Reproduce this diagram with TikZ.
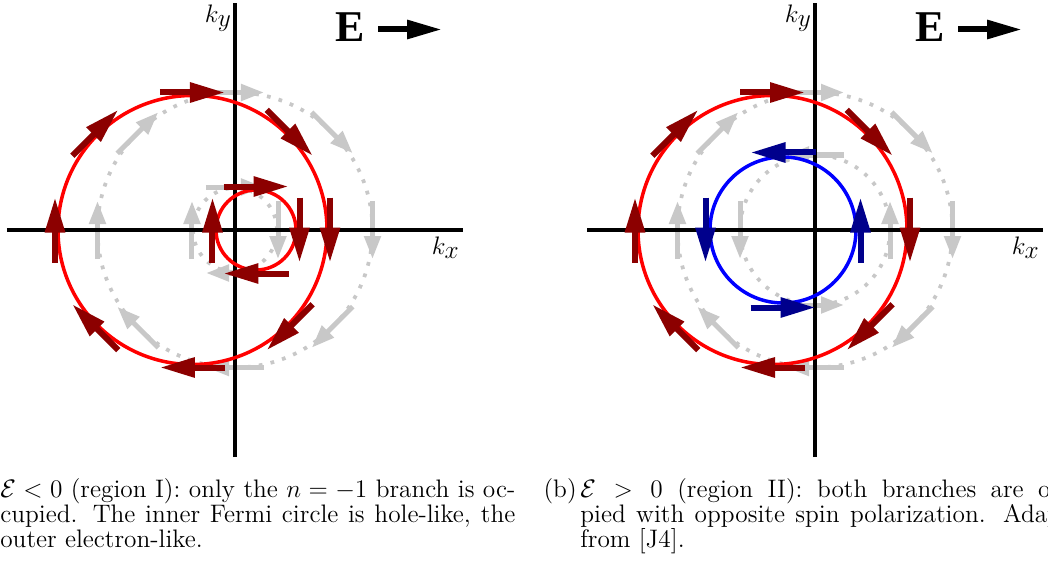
\documentclass[tikz,border=0pt]{standalone}
\usepackage{amsmath,amssymb}
\usepackage{fontspec}
\newfontfamily\efont{Liberation Serif}
\usepackage{tikz}
\usetikzlibrary{arrows.meta}
\definecolor{myred}{RGB}{255,0,0}
\definecolor{mydarkred}{RGB}{140,0,0}
\definecolor{myblue}{RGB}{0,0,255}
\definecolor{mydarkblue}{RGB}{0,0,140}
\definecolor{mygrey}{RGB}{200,200,200}
\newcommand{\justline}[1]{\makebox[10.3cm][s]{#1}}

\begin{document}
\begin{tikzpicture}[every node/.style={inner sep=0pt},
  axis/.style={line width=0.065cm},
  fermi/.style={line width=0.07cm},
  oldfermi/.style={mygrey,line width=0.075cm,dash pattern=on 0.075cm off 0.165cm},
  spin/.style={line width=0.12cm,-{Triangle[length=0.7cm,width=0.38cm]}},
  oldspin/.style={mygrey,line width=0.1cm,-{Triangle[length=0.46cm,width=0.32cm]}},
  field/.style={line width=0.12cm,-{Triangle[length=0.7cm,width=0.36cm]}},
  klabel/.style={font=\fontsize{15}{15}\selectfont},
  elabel/.style={font=\fontsize{25}{25}\selectfont\efont\bfseries},
  capline/.style={font=\fontsize{14.4}{14.2}\selectfont,anchor=base west}]
\useasboundingbox (-4.7,-6.8) rectangle (16.26,4.6);

% (a) region I: only n=-1
\coordinate (o1) at (0,0);
\coordinate (r1) at (-0.85,0);
\coordinate (h1) at (0.42,0);
\draw[oldfermi] (o1) circle (2.75);
\draw[oldfermi] (o1) circle (0.84);
\foreach \a in {0,45,...,315}
  \draw[oldspin] (o1) ++(\a:2.75) ++(\a+90:0.58) -- ++(\a-90:1.16);
\foreach \a in {0,90,180,270}
  \draw[oldspin] (o1) ++(\a:0.86) ++(\a+90:0.58) -- ++(\a-90:1.16);
\draw[axis] (-4.56,0) -- (4.56,0);
\draw[axis] (0,-4.54) -- (0,4.54);
\draw[fermi,myred] (r1) circle (2.69);
\draw[fermi,myred] (h1) circle (0.8); % hole-like
\foreach \a in {0,45,...,315}
  \draw[spin,mydarkred] (r1) ++(\a:2.75) ++(\a+90:0.65) -- ++(\a-90:1.3);
\foreach \a in {0,90,180,270}
  \draw[spin,mydarkred] (h1) ++(\a:0.87) ++(\a+90:0.65) -- ++(\a-90:1.3);
\node[klabel,anchor=north east] (ky1) at (-0.06,4.5) {$k_{\textstyle y}$};
\node[klabel,anchor=north east] (kx1) at (4.5,-0.14) {$k_{\textstyle x}$};
\node[elabel] (e1) at (2.31,4.05) {E};
\coordinate (ea1) at (2.86,4.01);
\coordinate (eb1) at (4.14,4.01);
\draw[field] (ea1) -- (eb1);

% (b) region II: both branches
\begin{scope}[xshift=11.6cm]
\coordinate (o2) at (0,0);
\coordinate (r2) at (-0.85,0);
\coordinate (b2) at (-0.64,0);
\draw[oldfermi] (o2) circle (2.75);
\draw[oldfermi] (o2) circle (1.5);
\foreach \a in {0,45,...,315}
  \draw[oldspin] (o2) ++(\a:2.75) ++(\a+90:0.58) -- ++(\a-90:1.16);
\foreach \a in {0,90,180,270}
  \draw[oldspin] (o2) ++(\a:1.5) ++(\a-90:0.58) -- ++(\a+90:1.16);
\draw[axis] (-4.56,0) -- (4.56,0);
\draw[axis] (0,-4.54) -- (0,4.54);
\draw[fermi,myred] (r2) circle (2.69);
\draw[fermi,myblue] (b2) circle (1.46);
\foreach \a in {0,45,...,315}
  \draw[spin,mydarkred] (r2) ++(\a:2.75) ++(\a+90:0.65) -- ++(\a-90:1.3);
\foreach \a in {0,90,180,270}
  \draw[spin,mydarkblue] (b2) ++(\a:1.55) ++(\a-90:0.65) -- ++(\a+90:1.3);
\node[klabel,anchor=north east] (ky2) at (-0.06,4.5) {$k_{\textstyle y}$};
\node[klabel,anchor=north east] (kx2) at (4.5,-0.14) {$k_{\textstyle x}$};
\node[elabel] (e2) at (2.31,4.05) {E};
\coordinate (ea2) at (2.86,4.01);
\coordinate (eb2) at (4.14,4.01);
\draw[field] (ea2) -- (eb2);
\end{scope}

% captions, one node per line
\node[capline] (cap1a) at (-4.7,-5.34) {\justline{$\mathcal{E}<0$ (region I): only the $n=-1$ branch is oc-}};
\node[capline] (cap1b) at (-4.7,-5.84) {\justline{cupied. The inner Fermi circle is hole-like, the}};
\node[capline] (cap1c) at (-4.7,-6.34) {outer electron-like.};
\node[capline,anchor=base east] (lab2) at (6.84,-5.34) {(b)};
\node[capline] (cap2a) at (6.9,-5.34) {\justline{$\mathcal{E}>0$ (region II): both branches are occu-}};
\node[capline] (cap2b) at (6.9,-5.84) {\justline{pied with opposite spin polarization. Adapted}};
\node[capline] (cap2c) at (6.9,-6.34) {from [J4].};
\end{tikzpicture}
\end{document}
